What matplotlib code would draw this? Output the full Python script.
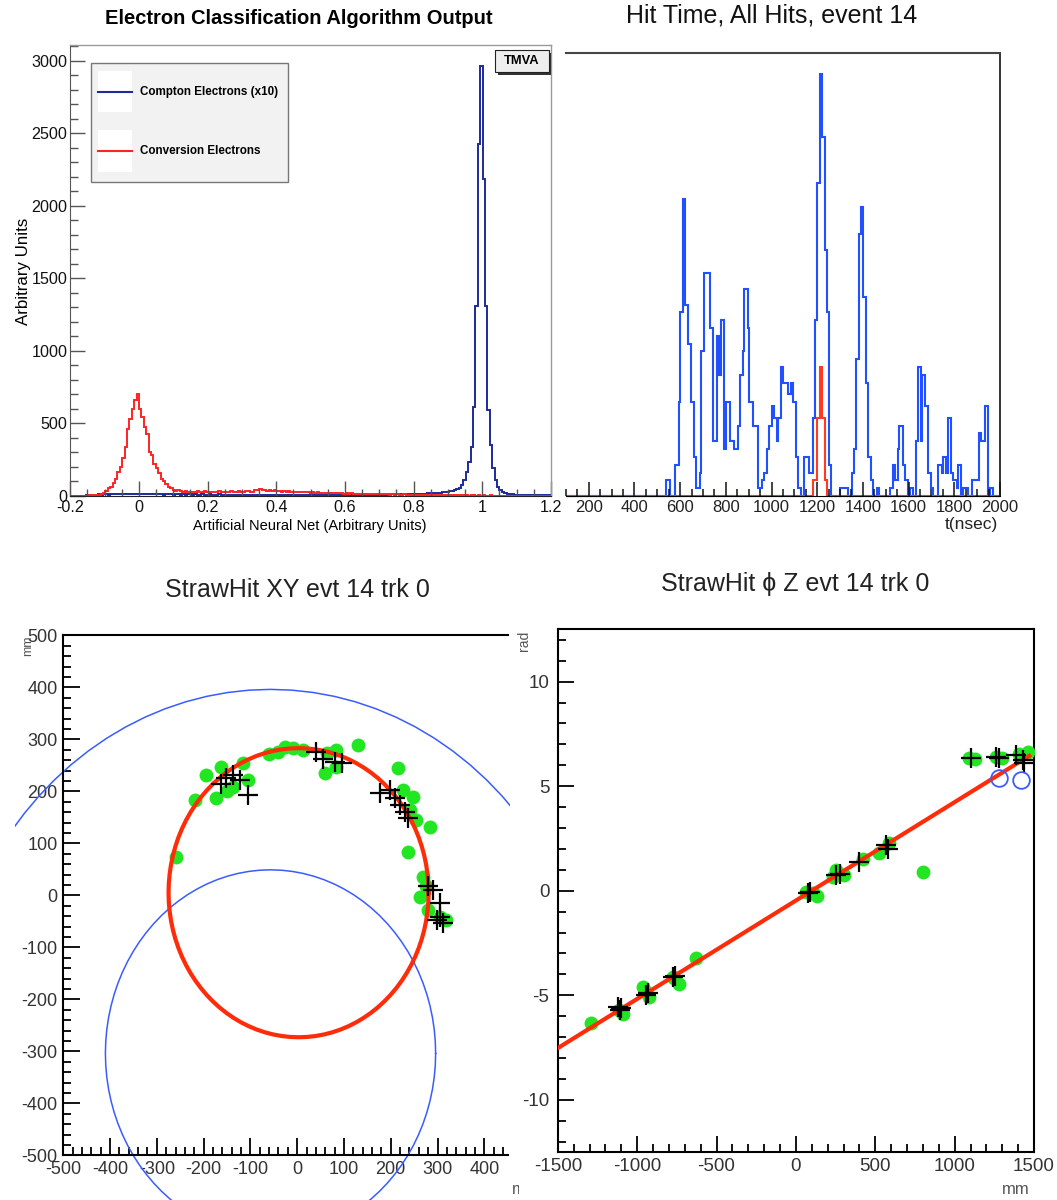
import numpy as np
import matplotlib
matplotlib.use("Agg")
import matplotlib.pyplot as plt
from matplotlib import font_manager
from matplotlib.patches import Rectangle
from matplotlib.ticker import MultipleLocator, FuncFormatter
from matplotlib.transforms import Bbox, TransformedBbox

W, H = 1057, 1200

# ---------------------------------------------------------------- data
# Classifier (ANN) output, fixed-width bins starting at ann_first_bin * ann_bin_width
ann_bin_width = 0.007
ann_first_bin = -29
conversion_electrons = [
    0, 0, 0, 0, 0, 0,
    2, 3, 4, 5, 6, 8, 10,
    12, 18, 35, 53, 64, 87, 119, 167, 202, 259, 340, 465, 534, 603, 665, 706,
    603, 546, 477, 426, 305, 282, 220, 190, 156, 117, 105, 83, 64, 53, 41, 35,
    38, 32, 30, 34, 28, 31, 27, 30, 33, 29, 28, 32, 30, 27, 29,
    30, 28, 32, 29, 31, 27, 30, 33, 28, 30, 32, 29, 31, 35, 33, 30, 28,
    38, 44, 46, 40, 43, 37, 42, 34,
    38, 33, 36, 31, 34, 30, 32, 28, 31, 27, 29, 26, 28, 25, 27,
    24, 26, 23, 25, 22, 24, 21, 23, 20, 22, 19, 20, 18, 21, 17, 19, 16, 18, 15, 17,
    14, 16, 15, 13, 15, 12, 14, 13, 11, 13, 12, 11, 12, 10, 11, 9, 12, 10, 9, 11,
    8, 10, 9, 8, 10, 7, 9, 8, 7, 9, 6, 8, 7, 6, 8, 5, 7, 6, 5, 7,
    5, 4, 6, 5, 4, 5, 3, 5, 4, 3,
    4, 3, 4, 2, 3, 4, 2, 3, 2, 3, 2, 2, 3, 1, 2, 2, 1, 2, 1, 1,
    2, 1, 1, 0, 1, 1, 0, 1, 0, 0, 1,
]
compton_electrons_x10 = [
    0, 0, 0, 0, 0, 0, 0,
    6, 8, 9, 10, 9, 11, 10, 12, 11, 10, 12, 11, 13, 12, 11, 12, 13, 12, 11, 13, 12, 12,
    12, 13, 11, 12, 12, 11, 13, 12, 11, 12, 10, 12, 11, 11, 10, 12, 11, 10, 11, 10,
    11, 12, 10, 11, 10, 10, 11, 9, 10, 11, 10, 9, 10, 11, 9, 10, 9, 10, 9, 10, 9,
    9, 10, 8, 9, 10, 9, 8, 9, 8, 10, 9, 8, 9, 8, 9, 8, 7, 9, 8, 8,
    7, 8, 9, 7, 8, 7, 8, 7, 8, 7, 7, 8, 7, 6, 8, 7, 6, 7, 8, 6,
    7, 6, 7, 6, 7, 6, 7, 6, 8, 7, 6, 7, 8, 7, 8, 7, 8, 9, 8, 9,
    9, 10, 9, 10, 11, 10, 11, 12, 11, 12, 13, 12, 14, 13, 15, 14, 16, 15, 17, 18,
    19, 20, 21, 22, 24, 26, 28, 30, 33, 36, 40, 45, 55, 75, 110, 167, 236, 335,
    614, 1313, 2425,
    2964,
    2185, 1313, 591, 351, 190, 110, 60, 38, 25, 18, 14, 12, 11, 10, 10, 9, 9, 8,
    9, 8, 8, 7, 8, 7, 7, 6, 7, 6, 6,
]

# Hit time histogram for event 14 (step edges in ns and contents)
hit_time_edges = [
    100, 539, 556, 578, 593, 600, 612, 621, 634, 648, 660, 670, 688, 692, 705,
    731, 742, 763, 771, 780, 790, 801, 819, 836, 855, 863, 873, 880, 896, 902,
    921, 940, 957, 969, 979, 991, 1001, 1013, 1023, 1030, 1042, 1052, 1074, 1084,
    1096, 1106, 1115, 1128, 1143, 1162, 1180, 1192, 1201, 1211, 1222, 1233, 1241,
    1251, 1260, 1300, 1334, 1351, 1363, 1370, 1385, 1391, 1402, 1412, 1424, 1436,
    1446, 1460, 1471, 1519, 1533, 1541, 1552, 1558, 1574, 1584, 1599, 1606, 1621,
    1631, 1640, 1654, 1660, 1672, 1684, 1698, 1708, 1727, 1745, 1752, 1762, 1771,
    1786, 1796, 1810, 1818, 1828, 1837, 1861, 1879, 1908, 1917, 1934, 1949, 1956,
    1971, 2000,
]
hit_time_all = [
    0, 2, 0, 4, 12, 23.5, 38, 24.5, 19.5, 12, 5, 1, 3, 18.5, 28.5,
    21.5, 7, 20.5, 15.5, 22.5, 6, 12, 7, 6, 9, 15.5, 18.5, 26.5, 21.5, 12,
    9, 1, 2, 3, 6, 9, 11.5, 10, 7, 10, 16.5, 14.5, 13, 14.5,
    12, 5, 1, 0, 5, 3, 10, 22.5, 40, 54, 46, 31.5, 23.5,
    4, 0, 1, 0, 3, 6, 17.5, 33.5, 37, 25.5, 14.5, 5, 2,
    0, 1, 0, 1, 4, 2, 6, 9, 4, 2, 0, 1, 0,
    7, 16.5, 7, 15.5, 11.5, 3, 1, 0, 4, 3, 5, 3, 10,
    3, 2, 1, 4, 0, 1, 0, 2, 8, 7, 11.5, 0, 1,
    0,
]
ce_time_edges = [100, 1183, 1197, 1213, 1222, 1234, 1241, 2000]
ce_time_hits = [0, 2, 10, 16.5, 10, 2, 0]

# StrawHit XY view (mm)
hit_x = [-259, -219, -194, -162, -116, -105, -173, -137, -41, -9, 12, 63, 84, 59,
         84, 130, 216, 227, 248, 241, 255, 284, 237, 269, 262, 280, 305, 319,
         -60, -25, -150, 275]
hit_y = [74, 183, 231, 247, 254, 222, 187, 209, 276, 283, 279, 273, 279, 235,
         247, 289, 244, 202, 190, 164, 145, 132, 84, 36, -3, -28, -41, -47,
         272, 285, 200, 18]
sel_x = [-152, -137, -162, -123, -105, 41, 55, 80, 95, 177, 198, 209, 219, 230,
         237, 280, 291, 305, 305, 312, 298]
sel_y = [225, 231, 215, 222, 193, 276, 263, 257, 254, 196, 202, 187, 174, 161,
         148, 17, 10, -15, -41, -54, -47]
fit_center = (3, 5)
fit_radius = 278
tracker_center = (-57, -304)
tracker_radii = [353, 700]

# StrawHit phi-Z view
hz_z = [-1290, -1112, -1091, -944, -965, -923, -766, -776, -734, -629, 63, 106,
        130, 232, 253, 300, 421, 526, 589, 799, 1093, 1261, 1408, 1461, 1130, 1300]
hz_phi = [-6.35, -5.72, -5.88, -4.84, -4.6, -5.08, -4.20, -4.12, -4.44, -3.24,
          -0.04, -0.13, -0.25, 0.66, 0.98, 0.75, 1.54, 1.78, 2.26, 0.90, 6.33,
          6.40, 6.56, 6.64, 6.30, 6.35]
sel_z = [-1123, -1100, -1110, -944, -930, -776, -760, 74, 90, 253, 280, 400, 568,
         580, 1104, 1261, 1280, 1387, 1429, 1440]
sel_phi = [-5.56, -5.6, -5.7, -5.0, -4.9, -4.12, -4.1, -0.13, -0.05, 0.74, 0.8,
           1.38, 2.18, 2.0, 6.33, 6.40, 6.35, 6.48, 6.24, 6.09]
bad_z = [1282, 1419]
bad_phi = [5.37, 5.29]
fit_z = [-1500, 1470]
fit_phi = [-7.53, 6.45]

# ---------------------------------------------------------------- style
_available = {f.name for f in font_manager.fontManager.ttflist}
SANS = "Liberation Sans" if "Liberation Sans" in _available else "DejaVu Sans"
if "Liberation Sans Narrow" in _available:
    NARROW, NSCALE = "Liberation Sans Narrow", 1.0
else:
    NARROW, NSCALE = SANS, 0.84
plt.rcParams["font.family"] = [SANS, "DejaVu Sans"]
plt.rcParams["axes.unicode_minus"] = False

NAVY = "#1d2a9e"
RED1 = "#ff2424"
BLUE2 = "#2050ff"
RED2 = "#ff3a20"
BLUE3 = "#3a5cff"
GREEN = "#22e622"
FITRED = "#ff2c0a"
GREY_TXT = "#333333"

fig = plt.figure(figsize=(W / 100, H / 100), dpi=100)


def ax_px(left, top, right, bottom):
    return fig.add_axes([left / W, 1 - bottom / H, (right - left) / W, (bottom - top) / H])


def ftxt(x, y, s, **kw):
    return fig.text(x / W, 1 - y / H, s, **kw)


def gfmt(v, _):
    s = f"{round(v, 6):g}"
    return "0" if s == "-0" else s


# ------------------------------------------------ panel 1: ANN output
ax1 = ax_px(70.3, 45, 551, 496)
edges1 = (np.arange(len(conversion_electrons) + 1) + ann_first_bin) * ann_bin_width
ax1.stairs(compton_electrons_x10, edges1, color=NAVY, lw=1.4)
ax1.stairs(conversion_electrons, edges1, color=RED1, lw=1.4)
ax1.set_xlim(-0.2, 1.2)
ax1.set_ylim(0, 3110)
ax1.xaxis.set_major_locator(MultipleLocator(0.2))
ax1.xaxis.set_minor_locator(MultipleLocator(0.05))
ax1.yaxis.set_major_locator(MultipleLocator(500))
ax1.yaxis.set_minor_locator(MultipleLocator(100))
ax1.xaxis.set_major_formatter(FuncFormatter(gfmt))
ax1.yaxis.set_major_formatter(FuncFormatter(gfmt))
for s in ("top", "right"):
    ax1.spines[s].set_color("#9a9a9a")
    ax1.spines[s].set_linewidth(1.0)
ax1.spines["left"].set_color("#555555")
ax1.spines["bottom"].set_color("#222222")
ax1.tick_params(which="both", direction="in", top=False, right=False,
                color="#555555", width=1.0, labelcolor="#111111",
                labelfontfamily=NARROW, labelsize=13.8 * NSCALE)
ax1.tick_params(which="major", length=10.5)
ax1.tick_params(which="minor", length=5.4)
ax1.tick_params(axis="y", pad=2)
ax1.tick_params(axis="x", pad=3)

ftxt(299, 19, "Electron Classification Algorithm Output", family=NARROW,
     weight="bold", size=17.3 * NSCALE, ha="center", va="center")
ftxt(310, 526, "Artificial Neural Net (Arbitrary Units)", family=NARROW,
     size=12.5 * NSCALE, ha="center", va="center")
ftxt(24, 271, "Arbitrary Units", family=NARROW, size=14.5 * NSCALE,
     rotation=90, ha="center", va="center")

# legend box
fig.add_artist(Rectangle((90.7 / W, 1 - 181.7 / H), 197 / W, 119 / H,
                         transform=fig.transFigure, facecolor="#f2f2f2",
                         edgecolor="#777777", lw=1.0))
for ytop in (70.7, 130):
    fig.add_artist(Rectangle((97.7 / W, 1 - (ytop + 41.6) / H), 34 / W, 41.6 / H,
                             transform=fig.transFigure, facecolor="white",
                             edgecolor="none"))
for yl, col, lab in ((91.7, NAVY, "Compton Electrons (x10)"),
                     (151, RED1, "Conversion Electrons")):
    fig.add_artist(plt.Line2D([97.7 / W, 131.7 / W], [1 - yl / H, 1 - yl / H],
                              transform=fig.transFigure, color=col, lw=1.5))
    ftxt(140, yl, lab, family=NARROW, weight="bold", size=10 * NSCALE,
         ha="left", va="center")

# TMVA tag
fig.add_artist(Rectangle((497.5 / W, 1 - 75 / H), 53.5 / W, 22 / H,
                         transform=fig.transFigure, facecolor="#333333",
                         edgecolor="none"))
fig.add_artist(Rectangle((495 / W, 1 - 72 / H), 53.5 / W, 22 / H,
                         transform=fig.transFigure, facecolor="#eeeeee",
                         edgecolor="#222222", lw=0.8))
ftxt(521.5, 61, "TMVA", family=NARROW, weight="bold", size=11 * NSCALE,
     ha="center", va="center")

# ------------------------------------------------ panel 2: hit time
ax2 = ax_px(565.9, 53, 1000, 496)
ax2.stairs(hit_time_all, hit_time_edges, color=BLUE2, lw=1.5, clip_on=False)
ax2.stairs(ce_time_hits, ce_time_edges, color=RED2, lw=1.5, clip_on=False)
ax2.set_xlim(100, 2000)
ax2.set_ylim(0, 56.7)
ax2.spines["left"].set_visible(False)
ax2.spines["top"].set_color("#444444")
ax2.spines["top"].set_linewidth(1.5)
ax2.spines["right"].set_color("#111111")
ax2.spines["right"].set_linewidth(1.2)
ax2.xaxis.set_major_locator(MultipleLocator(200))
ax2.xaxis.set_minor_locator(MultipleLocator(50))
ax2.tick_params(axis="y", which="both", left=False, labelleft=False)
ax2.tick_params(axis="x", which="both", direction="in", top=False, color="#111111",
                width=1.1, labelsize=12, labelcolor="#222222", pad=3)
ax2.tick_params(axis="x", which="major", length=10)
ax2.tick_params(axis="x", which="minor", length=5)
ftxt(772, 16, "Hit Time, All Hits, event 14", size=18, ha="center",
     va="center", color="#111111")
ftxt(998, 525, "t(nsec)", size=12.5, ha="right", va="center", color="#222222")

# ------------------------------------------------ panel 3: XY view
ax3 = ax_px(63.3, 635.3, 508, 1155.3)
ax3.set_xlim(-500, 450.7)
ax3.set_ylim(-500, 500)
ax3.spines["right"].set_visible(False)
for s in ("left", "top", "bottom"):
    ax3.spines[s].set_linewidth(1.5)
ax3.xaxis.set_major_locator(MultipleLocator(100))
ax3.xaxis.set_minor_locator(MultipleLocator(20))
ax3.yaxis.set_major_locator(MultipleLocator(100))
ax3.yaxis.set_minor_locator(MultipleLocator(20))
ax3.tick_params(which="both", direction="in", top=False, right=False,
                width=1.3, labelsize=13, labelcolor=GREY_TXT)
ax3.tick_params(which="major", length=12)
ax3.tick_params(which="minor", length=6)
ax3.tick_params(axis="y", pad=4)
ax3.tick_params(axis="x", pad=4)

panel3_clip = Rectangle((15 / W, 0), (510 - 15) / W, (1200 - 600) / H,
                        transform=fig.transFigure)
theta = np.linspace(0, 2 * np.pi, 97)
for r in tracker_radii:
    ln, = ax3.plot(tracker_center[0] + r * np.cos(theta),
                   tracker_center[1] + r * np.sin(theta),
                   color=BLUE3, lw=1.1, zorder=2)
    ln.set_clip_path(panel3_clip)
ax3.plot(hit_x, hit_y, "o", ms=10, color=GREEN, mec="none", zorder=3)
ax3.plot(fit_center[0] + fit_radius * np.cos(theta),
         fit_center[1] + fit_radius * np.sin(theta),
         color=FITRED, lw=3.0, zorder=4)
ax3.plot(sel_x, sel_y, "+", ms=14, mew=1.6, color="black", zorder=5)

ftxt(297.5, 590, "StrawHit XY evt 14 trk 0", size=18, ha="center",
     va="center", color="#222222")
ftxt(28, 646, "mm", size=9, rotation=90, ha="center", va="center", color="#555555")
cut = ftxt(512, 1190, "mm", size=12, ha="left", va="center", color="#555555")
cut.set_clip_box(TransformedBbox(Bbox([[0, 0], [519 / W, 1]]), fig.transFigure))
cut.set_clip_on(True)

# ------------------------------------------------ panel 4: phi-Z view
ax4 = ax_px(557.8, 629.4, 1034, 1152)
ax4.set_xlim(-1500, 1500)
ax4.set_ylim(-12.5, 12.5)
for s in ("left", "top", "bottom", "right"):
    ax4.spines[s].set_linewidth(1.5)
ax4.xaxis.set_major_locator(MultipleLocator(500))
ax4.xaxis.set_minor_locator(MultipleLocator(100))
ax4.yaxis.set_major_locator(MultipleLocator(5))
ax4.yaxis.set_minor_locator(MultipleLocator(1))
ax4.tick_params(which="both", direction="in", top=False, right=False,
                width=1.3, labelsize=13.5, labelcolor=GREY_TXT)
ax4.tick_params(which="major", length=11.5)
ax4.tick_params(which="minor", length=5.8)
ax4.tick_params(axis="y", pad=6)
ax4.tick_params(axis="x", pad=4)

ax4.plot(hz_z, hz_phi, "o", ms=10, color=GREEN, mec="none", zorder=3)
ax4.plot(fit_z, fit_phi, color=FITRED, lw=3.0, zorder=4)
ax4.plot(sel_z, sel_phi, "+", ms=14, mew=1.6, color="black", zorder=5)
ax4.plot(bad_z, bad_phi, "o", ms=12, mfc="none", mec=BLUE3, mew=1.3, zorder=6)

ftxt(795, 584, "StrawHit \u03d5 Z evt 14 trk 0", size=18, ha="center",
     va="center", color="#222222", family=[SANS, "DejaVu Sans"])
ftxt(524, 641, "rad", size=10, rotation=90, ha="center", va="center", color="#555555")
ftxt(1030, 1189, "mm", size=12, ha="right", va="center", color="#555555")

fig.savefig("out.png", dpi=100)
